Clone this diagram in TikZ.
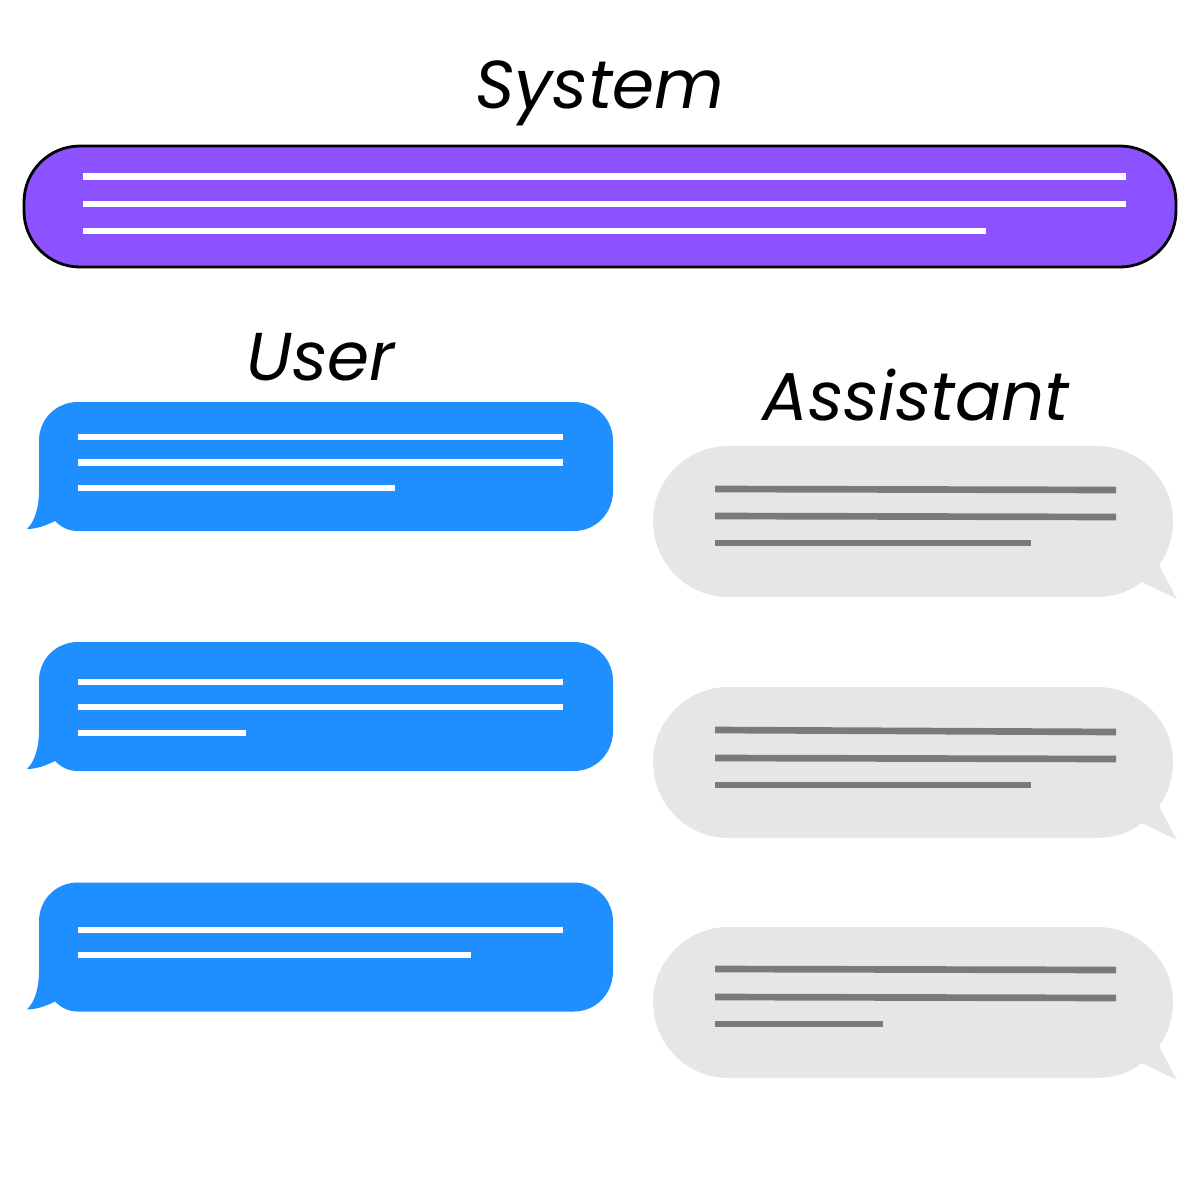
\documentclass[tikz,border=0pt]{standalone}
\usepackage{fontspec}
\setmainfont{Poppins}
\definecolor{sysc}{HTML}{8C52FF}
\definecolor{userc}{HTML}{1F8FFF}
\definecolor{asstc}{HTML}{E6E6E6}
\definecolor{asstl}{HTML}{7A7A7A}
\tikzset{
 x=0.05cm,y=-0.05cm,
 wl/.style={draw=white,line width=9pt},
 gl/.style={draw=asstl,line width=9.5pt},
 lab/.style={font=\fontsize{96.3pt}{100pt}\selectfont\itshape,text=black,inner sep=0pt,anchor=base},
}
\newcommand{\ubub}[1]{%
 \fill[userc,shift={(0,#1)}] (78,402) -- (574,402) .. controls (596,402) and (613,419) .. (613,441)
 -- (613,491) .. controls (613,513) and (596,531) .. (574,531) -- (78,531)
 .. controls (68,531) and (61,527) .. (55,521) .. controls (47,525) and (37,529) .. (27,529)
 .. controls (36,520) and (39,505) .. (39,490) -- (39,441) .. controls (39,419) and (56,402) .. (78,402) -- cycle;}
\newcommand{\abub}[1]{%
 \fill[asstc,shift={(0,#1)}] (728,446) -- (1097,446) .. controls (1139,446) and (1173,480) .. (1173,521)
 .. controls (1173,538) and (1168,553) .. (1159,565) -- (1177,599) -- (1142,582)
 .. controls (1129,592) and (1113,597) .. (1097,597)
 -- (728,597) .. controls (687,597) and (653,563) .. (653,521) .. controls (653,480) and (687,446) .. (728,446) -- cycle;}
\begin{document}
\begin{tikzpicture}
\useasboundingbox (0,0) rectangle (1200,1200);
\node[lab] (sys) at (600,108) {System};
\node[lab] (usr) at (321,380) {User};
\node[lab] (ast) at (916,420) {Assistant};
\draw[black,line width=4pt,fill=sysc,rounded corners=2.8cm] (24,146) rectangle (1176,267);
\draw[wl] (83,176.5)--(1126,176.5);
\draw[wl] (83,204)--(1126,204);
\draw[wl] (83,231)--(986,231);
\ubub{0}\ubub{240}\ubub{480.5}
\draw[wl] (78,437)--(563,437);
\draw[wl] (78,462.5)--(563,462.5);
\draw[wl] (78,488)--(395,488);
\draw[wl] (78,682)--(563,682);
\draw[wl] (78,707)--(563,707);
\draw[wl] (78,733)--(246,733);
\draw[wl] (78,930)--(563,930);
\draw[wl] (78,955)--(471,955);
\abub{0}\abub{241}\abub{481}
\draw[gl] (715,489)--(1116,490);
\draw[gl] (715,516)--(1116,517);
\draw[gl] (715,543)--(1031,543);
\draw[gl] (715,730)--(1116,732);
\draw[gl] (715,758)--(1116,759);
\draw[gl] (715,785)--(1031,785);
\draw[gl] (715,969)--(1116,970);
\draw[gl] (715,997)--(1116,998);
\draw[gl] (715,1024)--(883,1024);
\end{tikzpicture}
\end{document}
